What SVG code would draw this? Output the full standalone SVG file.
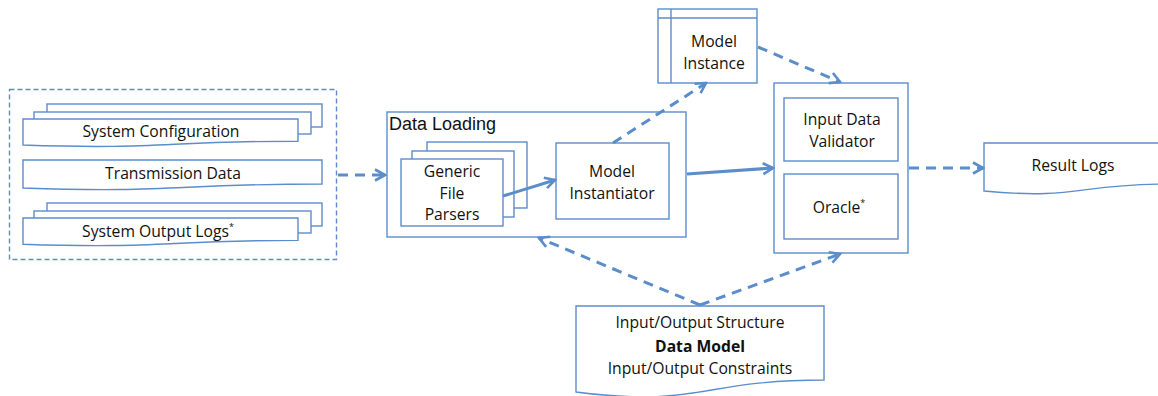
<svg xmlns="http://www.w3.org/2000/svg" width="1158" height="396" viewBox="0 0 1158 396">
<style>
.b{fill:#fff;stroke:#5B8DCB;stroke-width:1.4}
.t{font-family:"Open Sans","Liberation Sans",sans-serif;font-size:15.7px;fill:#111;text-anchor:middle}
.c{fill:none;stroke:#5B8DCB;stroke-width:3}
.d{stroke-dasharray:10,7}
</style>
<defs>
<marker id="ah" viewBox="0 0 14 14" refX="12" refY="7" markerWidth="14" markerHeight="14" markerUnits="userSpaceOnUse" orient="auto">
<path d="M2,1.5 L12,7 L2,12.5" fill="none" stroke="#5B8DCB" stroke-width="2.6" stroke-dasharray="none"/>
</marker>
</defs>
<rect width="1158" height="396" fill="#fff"/>

<g id="inputs">
<rect x="9.5" y="89.5" width="327" height="170" fill="none" stroke="#5B8DCB" stroke-width="1.4" stroke-dasharray="5,3"/>
</g>

<g id="system-configuration">
<rect class="b" x="47" y="104" width="275" height="23"/>
<rect class="b" x="34" y="112" width="277" height="22"/>
<path class="b" d="M23,119 H298 V141.2 C160.5,141.2 160.5,149.8 23,145 Z"/>
<text class="t" x="161" y="137">System Configuration</text>
</g>

<g id="transmission-data">
<path class="b" d="M23,160 H322 V184 C172.5,184 172.5,193.2 23,188 Z"/>
<text class="t" x="173" y="179">Transmission Data</text>
</g>

<g id="system-output-logs">
<rect class="b" x="47" y="203" width="275" height="23"/>
<rect class="b" x="34" y="211" width="277" height="22"/>
<path class="b" d="M23,218 H298 V240.4 C160.5,240.4 160.5,249 23,244.2 Z"/>
<text class="t" x="158" y="237">System Output Logs<tspan font-size="9" dy="-7">*</tspan></text>
</g>

<g id="data-loading">
<rect class="b" x="387" y="112" width="299" height="125"/>
<text x="389" y="130" font-family="Liberation Sans, Arial, sans-serif" font-size="18" fill="#111">Data Loading</text>
</g>

<g id="generic-file-parsers">
<rect class="b" x="427" y="142" width="100" height="66"/>
<rect class="b" x="412" y="151" width="102" height="66"/>
<rect class="b" x="401" y="159" width="102" height="67"/>
<text class="t" x="452" y="177">Generic</text>
<text class="t" x="452" y="199">File</text>
<text class="t" x="452" y="220">Parsers</text>
</g>

<g id="model-instantiator">
<rect class="b" x="556" y="143" width="113" height="76"/>
<text class="t" x="612" y="177">Model</text>
<text class="t" x="612" y="199">Instantiator</text>
</g>

<g id="model-instance">
<rect class="b" x="658" y="9" width="99" height="74"/>
<path d="M658,18 H757 M671,9 V83" stroke="#5B8DCB" stroke-width="1.4" fill="none"/>
<text class="t" x="714" y="47">Model</text>
<text class="t" x="714" y="69">Instance</text>
</g>

<g id="validation">
<rect class="b" x="774" y="83" width="134" height="170"/>
</g>

<g id="input-data-validator">
<rect class="b" x="784" y="98" width="114" height="63"/>
<text class="t" x="842" y="125">Input Data</text>
<text class="t" x="842" y="147">Validator</text>
</g>

<g id="oracle">
<rect class="b" x="784" y="174" width="114" height="65"/>
<text class="t" x="839" y="213">Oracle<tspan font-size="9" dy="-7">*</tspan></text>
</g>

<g id="result-logs">
<path class="b" d="M984,143 H1170 V184 C1077,184 1077,200 984,191 Z"/>
<text class="t" x="1073" y="171">Result Logs</text>
</g>

<g id="data-model">
<path class="b" d="M576,306 H824 V380 C700,380 700,408 576,392 Z"/>
<text class="t" x="700" y="328">Input/Output Structure</text>
<text class="t" x="700" y="352" font-weight="bold" font-size="19.5">Data Model</text>
<text class="t" x="700" y="374">Input/Output Constraints</text>
</g>

<g id="connectors">
<path class="c d" d="M338,175 H385" marker-end="url(#ah)"/>
<path class="c" d="M503,196 L555,180" marker-end="url(#ah)"/>
<path class="c d" d="M613,143 L706,83" marker-end="url(#ah)"/>
<path class="c d" d="M758,47 L840,82" marker-end="url(#ah)"/>
<path class="c" d="M687,174 L773,168" marker-end="url(#ah)"/>
<path class="c d" d="M909,168 H983" marker-end="url(#ah)"/>
<path class="c d" d="M700,305 L539,238" marker-end="url(#ah)"/>
<path class="c d" d="M700,305 L840,254" marker-end="url(#ah)"/>
</g>
</svg>
